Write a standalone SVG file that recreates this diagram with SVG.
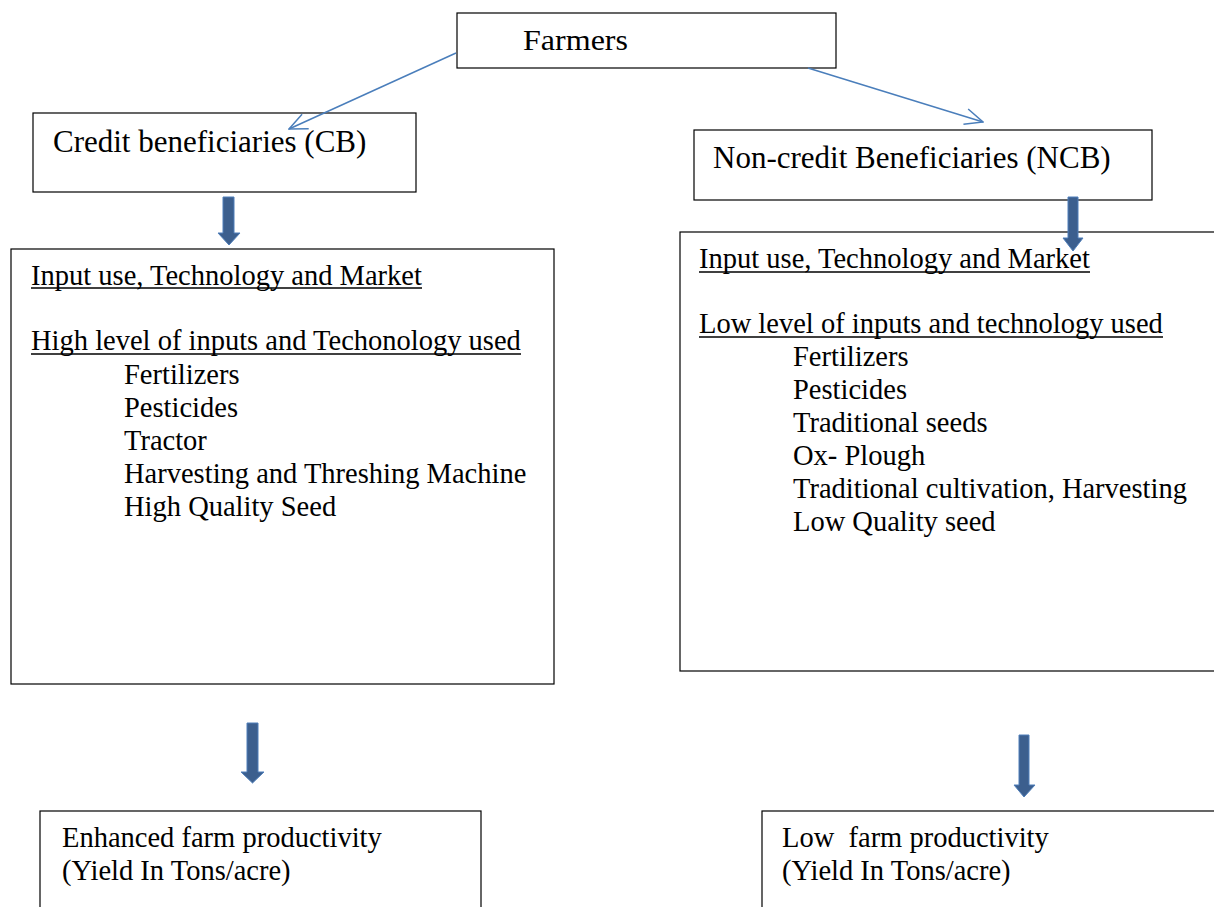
<svg xmlns="http://www.w3.org/2000/svg" width="1214" height="907" viewBox="0 0 1214 907">
<style>
.box{fill:#fff;stroke:#000;stroke-width:1.2}
.t{font-family:"Liberation Serif","Times New Roman",serif;font-size:28.5px;fill:#000}
.h{font-size:31px}
.u{stroke:#000;stroke-width:1.6}
.conn{fill:none;stroke:#4a7ebb;stroke-width:1.5}
.blk{fill:#3c5f8e;stroke:#4f7fba;stroke-width:1}
</style>
<defs>
<marker id="open" viewBox="0 0 20 20" refX="19" refY="10" markerWidth="20" markerHeight="20" markerUnits="userSpaceOnUse" orient="auto">
<path d="M1,2 L19,10 L1,18" fill="none" stroke="#4a7ebb" stroke-width="1.5"/>
</marker>
</defs>
<rect width="1214" height="907" fill="#fff"/>
<g id="farmers">
<rect class="box" x="457" y="13" width="379" height="55"/>
<text class="t" x="523" y="50" textLength="105" lengthAdjust="spacingAndGlyphs">Farmers</text>
</g>
<g id="cb">
<rect class="box" x="33" y="113" width="383" height="79"/>
<text class="t h" x="53" y="152">Credit beneficiaries (CB)</text>
</g>
<g id="ncb">
<rect class="box" x="694" y="130" width="458" height="70"/>
<text class="t h" x="713" y="168">Non-credit Beneficiaries (NCB)</text>
</g>
<g id="cb-inputs">
<rect class="box" x="11" y="249" width="543" height="435"/>
<text class="t" x="31" y="285">Input use, Technology and Market</text>
<line class="u" x1="31" y1="288" x2="422" y2="288"/>
<text class="t" x="31" y="350">High level of inputs and Techonology used</text>
<line class="u" x1="31" y1="354" x2="521" y2="354"/>
<text class="t" x="124" y="384">Fertilizers</text>
<text class="t" x="124" y="417">Pesticides</text>
<text class="t" x="124" y="450">Tractor</text>
<text class="t" x="124" y="483">Harvesting and Threshing Machine</text>
<text class="t" x="124" y="516">High Quality Seed</text>
</g>
<g id="ncb-inputs">
<rect class="box" x="680" y="232" width="545" height="439"/>
<text class="t" x="699" y="268">Input use, Technology and Market</text>
<line class="u" x1="699" y1="272" x2="1090" y2="272"/>
<text class="t" x="699" y="333">Low level of inputs and technology used</text>
<line class="u" x1="699" y1="337" x2="1163" y2="337"/>
<text class="t" x="793" y="366">Fertilizers</text>
<text class="t" x="793" y="399">Pesticides</text>
<text class="t" x="793" y="432">Traditional seeds</text>
<text class="t" x="793" y="465">Ox- Plough</text>
<text class="t" x="793" y="498">Traditional cultivation, Harvesting</text>
<text class="t" x="793" y="531">Low Quality seed</text>
</g>
<g id="enhanced">
<rect class="box" x="40" y="811" width="441" height="110"/>
<text class="t" x="62" y="847">Enhanced farm productivity</text>
<text class="t" x="62" y="880">(Yield In Tons/acre)</text>
</g>
<g id="low">
<rect class="box" x="762" y="811" width="470" height="110"/>
<text class="t" x="782" y="847">Low&#160; farm productivity</text>
<text class="t" x="782" y="880">(Yield In Tons/acre)</text>
</g>
<g id="connectors">
<line class="conn" x1="456" y1="53" x2="289" y2="129" marker-end="url(#open)"/>
<line class="conn" x1="808" y1="68" x2="983" y2="122" marker-end="url(#open)"/>
<path class="blk" d="M223,197 H234 V233 H240 L229,245 L218,233 H223 Z"/>
<path class="blk" d="M1068,197 H1078 V238 H1083 L1073,251 L1063,238 H1068 Z"/>
<path class="blk" d="M247,723 H258 V772 H264 L252.5,783 L241,772 H247 Z"/>
<path class="blk" d="M1019,735 H1029 V785 H1035 L1024,797 L1014,785 H1019 Z"/>
</g>
</svg>
